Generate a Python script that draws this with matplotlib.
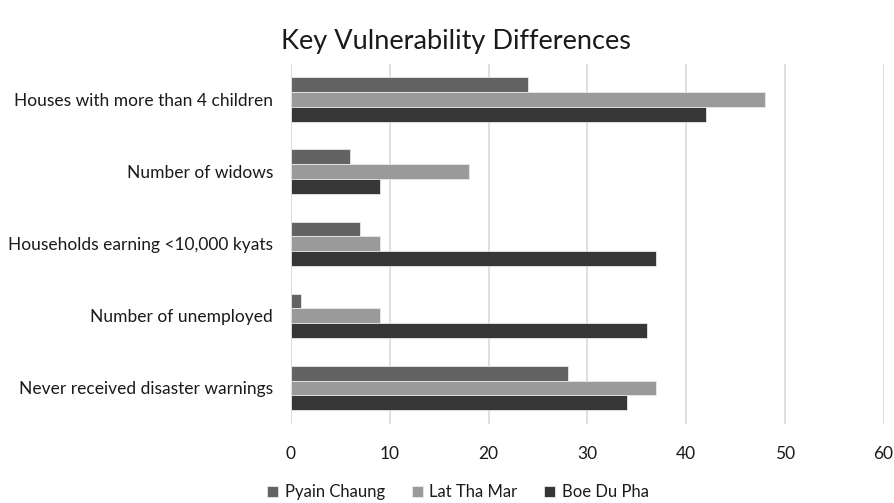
import matplotlib
matplotlib.use("Agg")
import matplotlib.pyplot as plt
import numpy as np

categories = ["Houses with more than 4 children", "Number of widows",
              "Households earning <10,000 kyats", "Number of unemployed",
              "Never received disaster warnings"]
series_names = ["Pyain Chaung", "Lat Tha Mar", "Boe Du Pha"]
pyain_chaung = [24, 6, 7, 1, 28]
lat_tha_mar = [48, 18, 9, 9, 37]
boe_du_pha = [42, 9, 37, 36, 34]
xticks = [0, 10, 20, 30, 40, 50, 60]

colors = ["#636363", "#9a9a9a", "#363636"]
plt.rcParams['font.family'] = ['Lato', 'DejaVu Sans']

fig = plt.figure(figsize=(8.94, 5.03), dpi=100)
ax = fig.add_axes([291/894, 1-424/503, (883.5-291)/894, (424-63.5)/503])

n = len(categories)
y = np.arange(n)
h = 0.205
for i, (vals, name) in enumerate(zip([pyain_chaung, lat_tha_mar, boe_du_pha], series_names)):
    ax.barh(y + (i-1)*h, vals, height=h, color=colors[i], edgecolor="#e8e8e8",
            linewidth=0.6, label=name, zorder=3)

ax.set_ylim(n-0.5, -0.5)
ax.set_xlim(0, 60)
ax.set_xticks(xticks)
ax.set_xticklabels([str(t) for t in xticks], fontsize=12.5, color="#1a1a1a")
ax.set_yticks(y)
ax.set_yticklabels(categories, fontsize=12.5, color="#1a1a1a")
ax.tick_params(axis='y', length=0, pad=13)
ax.tick_params(axis='x', length=0, pad=15.5)
ax.grid(axis='x', color="#d9d9d9", linewidth=1.2, zorder=0)
for s in ax.spines.values():
    s.set_visible(False)

fig.text(456/894, 1-42/503, "Key Vulnerability Differences", ha='center', va='center',
         fontsize=19.5, color="#1a1a1a")
fig.legend(loc='center', bbox_to_anchor=(458/894, 1-492/503), ncol=3, frameon=False,
           fontsize=12, handlelength=0.65, handleheight=0.65, columnspacing=1.6,
           handletextpad=0.4, labelcolor="#1a1a1a")

fig.savefig("out.png", dpi=100)
